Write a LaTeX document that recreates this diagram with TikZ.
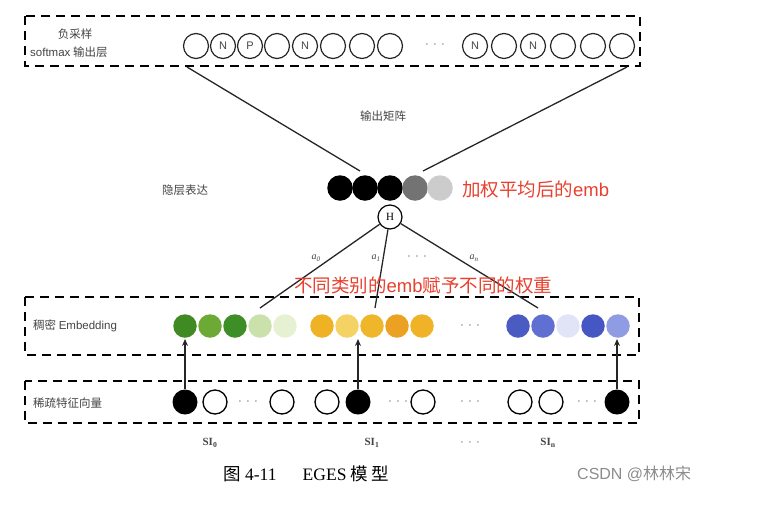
\documentclass[tikz,border=0pt]{standalone}
\usepackage{fontspec}
\setmainfont{Liberation Serif}
\newfontfamily\cjk{Noto Sans CJK SC}
\newfontfamily\lsans{Liberation Sans}
\usetikzlibrary{arrows.meta}
\definecolor{redtxt}{HTML}{E8402E}
\definecolor{txtgray}{HTML}{444444}
\definecolor{ga}{HTML}{3F8A22}
\definecolor{gb}{HTML}{6DAA35}
\definecolor{gc}{HTML}{3E8E27}
\definecolor{gd}{HTML}{CBE1AC}
\definecolor{ge}{HTML}{E6F1D4}
\definecolor{ya}{HTML}{EFB224}
\definecolor{yb}{HTML}{F4D264}
\definecolor{yc}{HTML}{F0B62A}
\definecolor{yd}{HTML}{EBA223}
\definecolor{ye}{HTML}{F0B226}
\definecolor{ba}{HTML}{4A5BC2}
\definecolor{bb}{HTML}{5F6FD2}
\definecolor{bc}{HTML}{E0E4F6}
\definecolor{bd}{HTML}{4656C2}
\definecolor{be}{HTML}{8F9BE2}
\tikzset{
  layerbox/.style={draw=black, line width=1.8pt, dash pattern=on 9pt off 6pt},
  outc/.style={circle, draw=black!85, line width=1.2pt, minimum size=25pt, inner sep=0pt, font=\lsans\fontsize{11}{11}\selectfont, text=txtgray},
  hidc/.style={circle, minimum size=25.5pt, inner sep=0pt},
  embc/.style={circle, minimum size=23.5pt, inner sep=0pt},
  spc/.style={circle, draw=black, line width=1.3pt, minimum size=24pt, inner sep=0pt},
  spb/.style={circle, fill=black, minimum size=25pt, inner sep=0pt},
  lbl/.style={font=\cjk\fontsize{11.5}{13}\selectfont, text=txtgray, inner sep=0pt},
  redl/.style={font=\cjk\fontsize{18.5}{20}\selectfont, text=redtxt, inner sep=0pt},
  dots/.style={font=\fontsize{12}{12}\selectfont, text=txtgray, inner sep=0pt},
  conn/.style={line width=1.3pt, draw=black!85},
  alab/.style={font=\fontsize{10}{10}\selectfont\itshape, text=txtgray, inner sep=0pt},
  silab/.style={font=\bfseries\fontsize{11}{11}\selectfont, text=txtgray, inner sep=0pt},
}
\begin{document}
\begin{tikzpicture}[x=1pt,y=-1pt]
\useasboundingbox (0,0) rectangle (784,512);
% layer boxes
\draw[layerbox] (25,16) rectangle (640,66);
\draw[layerbox] (25,297) rectangle (639,355);
\draw[layerbox] (25,381) rectangle (639,423);
% labels
\node[lbl] (lneg) at (75,34) {负采样};
\node[lbl, anchor=west] (lsm) at (30,52) {\lsans softmax\cjk{} 输出层};
\node[lbl] (lout) at (383,116) {输出矩阵};
\node[lbl] (lhid) at (185,190) {隐层表达};
\node[lbl, anchor=west] (lemb) at (33,326) {稠密 \lsans Embedding};
\node[lbl, anchor=west] (lsp) at (33,403) {稀疏特征向量};
% output circles
\node[outc] (o1) at (196,46) {};
\node[outc] (o2) at (223,46) {N};
\node[outc] (o3) at (250,46) {P};
\node[outc] (o4) at (277,46) {};
\node[outc] (o5) at (305,46) {N};
\node[outc] (o6) at (333,46) {};
\node[outc] (o7) at (362,46) {};
\node[outc] (o8) at (390,46) {};
\node[dots] (od) at (435,45) {$\cdot\,\cdot\,\cdot$};
\node[outc] (o9) at (475,46) {N};
\node[outc] (o10) at (504,46) {};
\node[outc] (o11) at (533,46) {N};
\node[outc] (o12) at (563,46) {};
\node[outc] (o13) at (593,46) {};
\node[outc] (o14) at (622,46) {};
% hidden layer
\node[hidc, fill=black] (h1) at (340,188) {};
\node[hidc, fill=black] (h2) at (365,188) {};
\node[hidc, fill=black] (h3) at (390,188) {};
\node[hidc, fill=black!55] (h4) at (415,188) {};
\node[hidc, fill=black!20] (h5) at (440,188) {};
\node[redl, anchor=west] (rt1) at (462,189) {加权平均后的\lsans emb};
\coordinate (tl1) at (187,67);
\coordinate (tl2) at (360,171);
\coordinate (tr1) at (627,67);
\coordinate (tr2) at (423,171);
\draw[conn] (tl1) -- (tl2);
\draw[conn] (tr1) -- (tr2);
% H node
\node[circle, draw=black, line width=1.2pt, minimum size=24pt, inner sep=0pt, fill=white, font=\fontsize{11}{11}\selectfont] (H) at (390,217) {H};
\coordinate (e0) at (260,308);
\coordinate (e1) at (375,308);
\coordinate (en) at (538,308);
\draw[conn] (H) -- (e0);
\draw[conn] (H) -- (e1);
\draw[conn] (H) -- (en);
\node[alab] (a0) at (316,258) {a\textsubscript{0}};
\node[alab] (a1) at (376,258) {a\textsubscript{1}};
\node[dots] (ad) at (417,257) {$\cdot\,\cdot\,\cdot$};
\node[alab] (an) at (474,258) {a\textsubscript{n}};
\node[redl, anchor=west] (rt2) at (294,285) {不同类别的\lsans emb\cjk 赋予不同的权重};
% embeddings
\node[embc, fill=ga] (g1) at (185,326) {};
\node[embc, fill=gb] (g2) at (210,326) {};
\node[embc, fill=gc] (g3) at (235,326) {};
\node[embc, fill=gd] (g4) at (260,326) {};
\node[embc, fill=ge] (g5) at (285,326) {};
\node[embc, fill=ya] (y1) at (322,326) {};
\node[embc, fill=yb] (y2) at (347,326) {};
\node[embc, fill=yc] (y3) at (372,326) {};
\node[embc, fill=yd] (y4) at (397,326) {};
\node[embc, fill=ye] (y5) at (422,326) {};
\node[dots] (edots) at (470,326) {$\cdot\,\cdot\,\cdot$};
\node[embc, fill=ba] (b1) at (518,326) {};
\node[embc, fill=bb] (b2) at (543,326) {};
\node[embc, fill=bc] (b3) at (568,326) {};
\node[embc, fill=bd] (b4) at (593,326) {};
\node[embc, fill=be] (b5) at (618,326) {};
% sparse
\node[spb] (s1) at (185,402) {};
\node[spc] (s2) at (215,402) {};
\node[dots] (sd1) at (248,402) {$\cdot\,\cdot\,\cdot$};
\node[spc] (s3) at (282,402) {};
\node[spc] (s4) at (327,402) {};
\node[spb] (s5) at (358,402) {};
\node[dots] (sd2) at (398,402) {$\cdot\,\cdot\,\cdot$};
\node[spc] (s6) at (423,402) {};
\node[dots] (sd3) at (470,402) {$\cdot\,\cdot\,\cdot$};
\node[spc] (s7) at (520,402) {};
\node[spc] (s8) at (551,402) {};
\node[dots] (sd4) at (587,402) {$\cdot\,\cdot\,\cdot$};
\node[spb] (s9) at (617,402) {};
% arrows
\coordinate (ar1) at (185,339);
\coordinate (ar2) at (358,339);
\coordinate (ar3) at (617,339);
\draw[conn, -{Stealth[length=7pt,width=6pt]}] (s1) -- (ar1);
\draw[conn, -{Stealth[length=7pt,width=6pt]}] (s5) -- (ar2);
\draw[conn, -{Stealth[length=7pt,width=6pt]}] (s9) -- (ar3);
% SI labels
\node[silab] (si0) at (210,443) {SI\textsubscript{0}};
\node[silab] (si1) at (372,443) {SI\textsubscript{1}};
\node[dots] (sid) at (470,443) {$\cdot\,\cdot\,\cdot$};
\node[silab] (sin) at (548,443) {SI\textsubscript{n}};
% caption
\node[font=\fontsize{17.5}{19}\selectfont, inner sep=0pt, anchor=west] (cap) at (223,474) {{\cjk 图} 4-11\hspace{1.5em}EGES {\cjk 模}\,{\cjk 型}};
\node[font=\lsans\fontsize{16}{18}\selectfont, text=black!45, inner sep=0pt, anchor=west] (csdn) at (577,474) {CSDN @{\cjk 林林宋}};
\end{tikzpicture}
\end{document}
